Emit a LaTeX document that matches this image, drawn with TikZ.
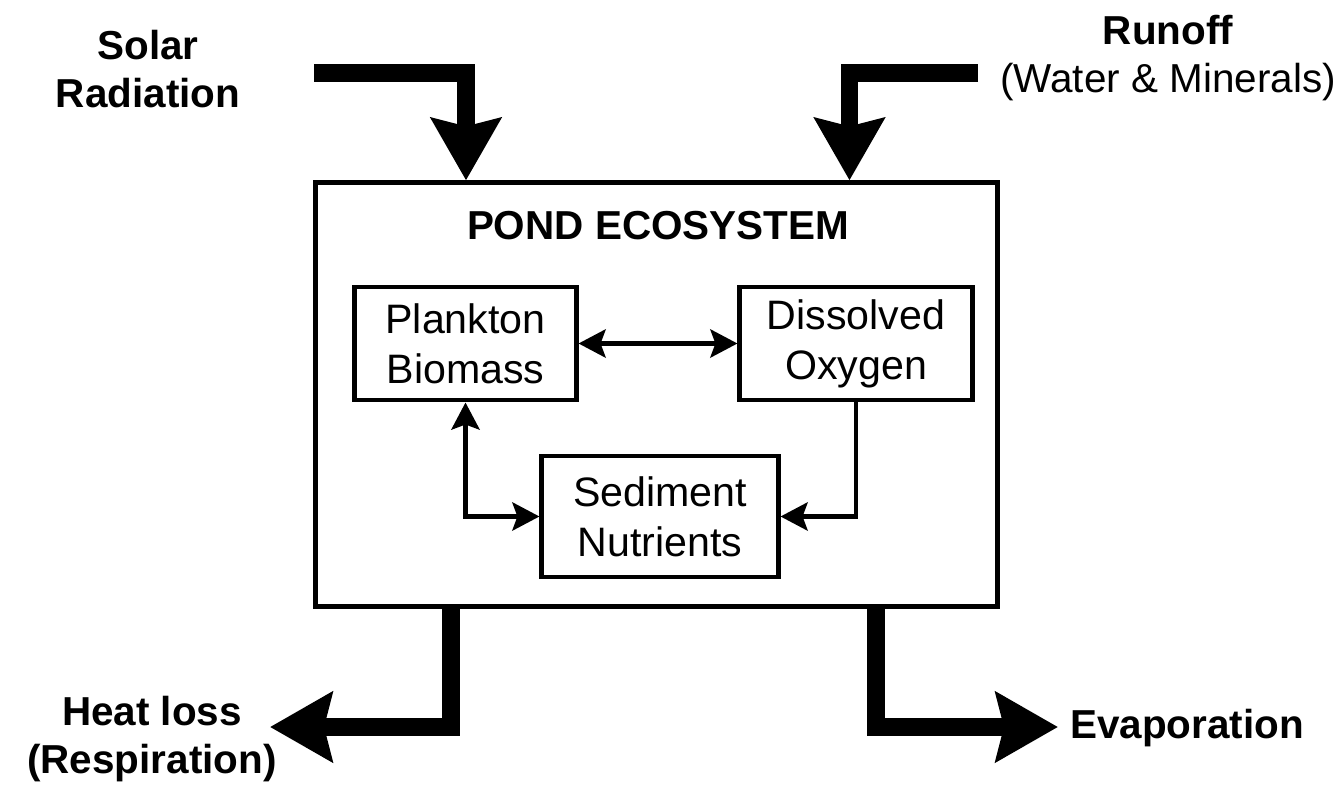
\documentclass[tikz,border=0pt]{standalone}
\usepackage{fontspec}
\setmainfont{Liberation Sans}
\usepackage{tikz}
\usetikzlibrary{arrows.meta,positioning}

\begin{document}
\begin{tikzpicture}[
  x=0.01cm,y=-0.01cm,
  pondbox/.style={draw, line width=1.4pt, minimum width=6.81cm, minimum height=4.23cm, inner sep=0pt},
  box/.style={draw, line width=1.4pt, align=center, font=\fontsize{11.7}{14.2}\selectfont, inner sep=0pt},
  lbl/.style={align=center, font=\fontsize{11.5}{13.6}\selectfont\bfseries, inner sep=0pt},
  arr/.style={-{Stealth[length=2.7mm, width=2.8mm, inset=0.5mm]}, line width=1.4pt},
  dblarr/.style={{Stealth[length=2.7mm, width=2.8mm, inset=0.5mm]}-{Stealth[length=2.7mm, width=2.8mm, inset=0.5mm]}, line width=1.4pt},
  flow/.style={-{Stealth[length=6.2mm, width=6.9mm, inset=0.8mm]}, line width=5.1pt}
]
\useasboundingbox (0,0) rectangle (1344,800);
% ecosystem
\node[pondbox] (pond) at (656.5,394.5) {};
\node[lbl] (title) at (658,226) {POND ECOSYSTEM};
\node[box, minimum width=2.21cm, minimum height=1.13cm] (plankton) at (465.5,343.5) {Plankton\\Biomass};
\node[box, minimum width=2.32cm, minimum height=1.13cm] (oxygen) at (856,343.5) {Dissolved\\Oxygen};
\node[box, minimum width=2.36cm, minimum height=1.21cm] (sediment) at (660,516.5) {Sediment\\Nutrients};
\draw[dblarr] (plankton) -- (oxygen);
\draw[dblarr] (plankton.south) |- (sediment.west);
\draw[arr] (oxygen.south) |- (sediment.east);
% inputs and outputs
\node[lbl] (solar) at (148,69) {Solar\\Radiation};
\node[lbl] (runoff) at (1168,58) {Runoff\\{\mdseries (Water \& Minerals)}};
\node[lbl] (heat) at (152,739) {Heat loss\\(Respiration)};
\node[lbl] (evap) at (1187,728) {Evaporation};
\coordinate (solarsrc) at (314,73);
\coordinate (solarbend) at (466,73);
\coordinate (runoffsrc) at (978,73);
\coordinate (runoffbend) at (849.5,73);
\coordinate (heatbend) at (451,727);
\coordinate (heattip) at (270,727);
\coordinate (evapbend) at (876,727);
\coordinate (evaptip) at (1058,727);
\draw[flow] (solarsrc) -- (solarbend) -- (solarbend |- pond.north);
\draw[flow] (runoffsrc) -- (runoffbend) -- (runoffbend |- pond.north);
\draw[flow] (heatbend |- pond.south) -- (heatbend) -- (heattip);
\draw[flow] (evapbend |- pond.south) -- (evapbend) -- (evaptip);
\end{tikzpicture}
\end{document}
